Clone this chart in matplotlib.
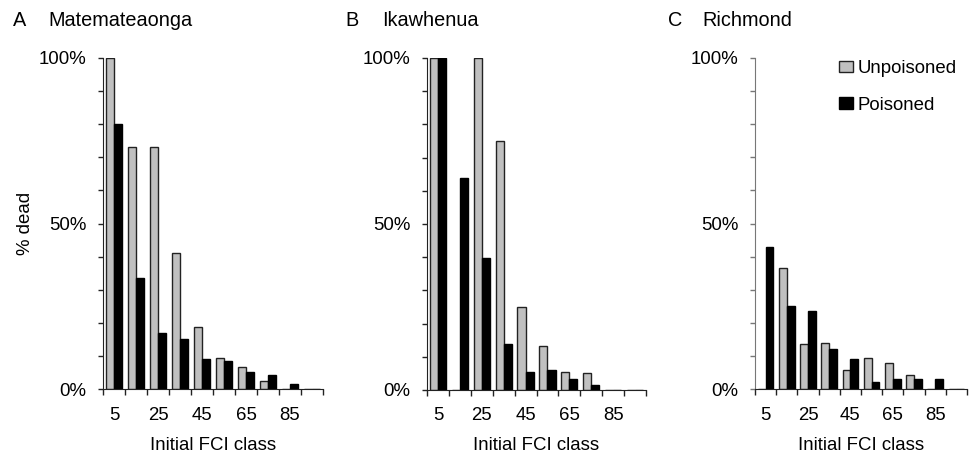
import matplotlib
matplotlib.use("Agg")
import matplotlib.pyplot as plt
import numpy as np
from matplotlib.patches import Patch
from matplotlib.ticker import MultipleLocator

plt.rcParams['font.family'] = ['Liberation Sans', 'DejaVu Sans']

# FCI classes (class mid-points)
fci_classes = [5, 15, 25, 35, 45, 55, 65, 75, 85, 95]
tick_labels = ['5', '25', '45', '65', '85']

# % dead per class
mat_unpoisoned = [100, 73, 73, 41, 18.6, 9.3, 6.5, 2.4, 0, 0]
mat_poisoned = [80, 33.5, 17, 15, 9, 8.5, 5.2, 4.3, 1.6, 0]
ika_unpoisoned = [100, 0, 100, 75, 25, 13.4, 5.4, 5, 0, 0]
ika_poisoned = [100, 64, 39.7, 13.9, 5.5, 6, 3.2, 1.4, 0, 0]
ric_unpoisoned = [0, 36.5, 13.5, 14, 5.6, 9.3, 8, 4.2, 0, 0]
ric_poisoned = [43, 25.1, 23.7, 12.1, 9, 2.1, 2.9, 2.9, 2.9, 0]

panels = [
    ("A", "Matemateaonga", mat_unpoisoned, mat_poisoned),
    ("B", "Ikawhenua", ika_unpoisoned, ika_poisoned),
    ("C", "Richmond", ric_unpoisoned, ric_poisoned),
]

W, H = 974, 455
fig = plt.figure(figsize=(W / 100, H / 100), dpi=100)

# axes boxes in pixels: left, right, bottom(y), top(y)
boxes = [(103, 323, 389, 58), (427, 646, 390, 58), (755, 967, 389, 58)]
title_x = [(13, 48), (345, 382), (668, 702)]

FS = 13.4
TFS = 14.3
grey = '#c0c0c0'
edge = '#222222'

x = np.arange(len(fci_classes))
bw = 0.37

for i, (letter, name, unp, poi) in enumerate(panels):
    l, r, b, t = boxes[i]
    ax = fig.add_axes([l / W, 1 - b / H, (r - l) / W, (b - t) / H])
    ax.bar(x - bw / 2, unp, width=bw, color=grey, edgecolor=edge, linewidth=1.0)
    ax.bar(x + bw / 2, poi, width=bw, color='black', edgecolor='black', linewidth=1.0)

    ax.set_xlim(-0.5, len(fci_classes) - 0.5)
    ax.set_ylim(0, 100)
    for s in ('top', 'right'):
        ax.spines[s].set_visible(False)
    spine_col = '#777777' if i == 2 else '#222222'
    ax.spines['left'].set_color(spine_col)
    ax.spines['bottom'].set_color('#222222')

    ax.set_yticks([0, 50, 100])
    ax.set_yticklabels(['0%', '50%', '100%'], fontsize=FS)
    ax.yaxis.set_minor_locator(MultipleLocator(10))
    ax.tick_params(axis='y', which='major', length=3.5, width=1, color=spine_col, pad=8.5)
    ax.tick_params(axis='y', which='minor', length=3.5, width=1, color=spine_col)

    ax.set_xticks(np.arange(-0.5, len(fci_classes), 1.0))
    ax.set_xticklabels([])
    ax.tick_params(axis='x', which='major', length=4, width=1, color='#222222')
    for j, lab in enumerate(tick_labels):
        ax.annotate(lab, (2 * j, 0), xycoords=('data', 'axes fraction'),
                    xytext=(0, -26), textcoords='offset pixels',
                    ha='center', va='center', fontsize=FS)
    ax.annotate('Initial FCI class', (4.5, 0), xycoords=('data', 'axes fraction'),
                xytext=(0, -56), textcoords='offset pixels',
                ha='center', va='center', fontsize=FS)

    fig.text(title_x[i][0] / W, 1 - 21 / H, letter, fontsize=TFS, va='center')
    fig.text(title_x[i][1] / W, 1 - 21 / H, name, fontsize=TFS, va='center')

    if i == 2:
        handles = [Patch(facecolor=grey, edgecolor=edge, linewidth=1.0),
                   Patch(facecolor='black', edgecolor='black')]
        ax.legend(handles, ['Unpoisoned', 'Poisoned'], loc='upper left',
                  bbox_to_anchor=(839 / W, 1 - 60 / H), bbox_transform=fig.transFigure,
                  frameon=False, fontsize=FS, borderpad=0, borderaxespad=0,
                  handlelength=0.75, handleheight=0.6, handletextpad=0.25,
                  labelspacing=1.05)

fig.text(25 / W, 1 - 223 / H, '% dead', rotation=90, ha='center', va='center', fontsize=FS)

fig.savefig('out.png', dpi=100)
